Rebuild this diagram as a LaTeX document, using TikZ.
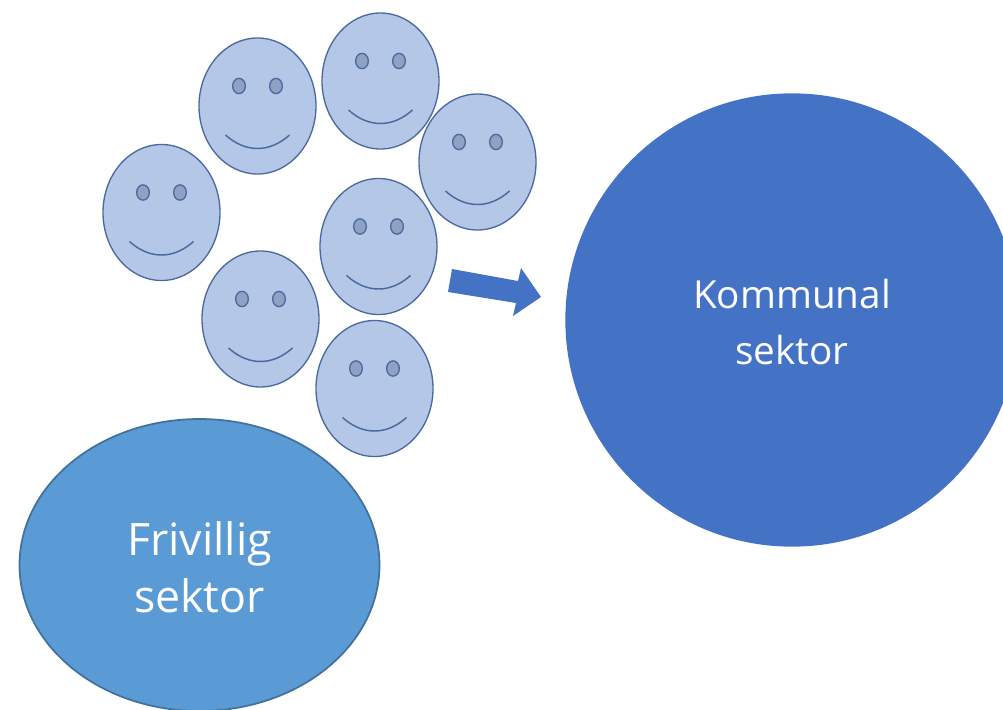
\documentclass[tikz,border=0pt]{standalone}
\usepackage{fontspec}
\setmainfont{Open Sans}
\usetikzlibrary{shapes.geometric,calc}
\definecolor{facedge}{HTML}{4A6A9F}
\definecolor{facefill}{HTML}{B4C7E7}
\definecolor{eyefill}{HTML}{8FA2C4}
\definecolor{komm}{HTML}{4472C4}
\definecolor{friv}{HTML}{5B9BD5}
\definecolor{frivedge}{HTML}{41719C}
\tikzset{x=0.75pt,y=-0.75pt,
 face/.style={ellipse,minimum width=87.75pt,minimum height=102pt,inner sep=0pt,draw=facedge,fill=facefill,line width=1pt},
 eye/.style={ellipse,minimum width=9.5pt,minimum height=11.5pt,inner sep=0pt,draw=facedge,fill=eyefill,line width=1pt},
 smile/.style={draw=facedge,line width=1.1pt},
 big/.style={inner sep=0pt,text=white,align=center}}
\newcommand{\smiley}[3]{%
 \node[face] (f#1) at (#2,#3) {};
 \node[eye] (l#1) at ($(f#1)+(-18.5,-20)$) {};
 \node[eye] (r#1) at ($(f#1)+(18.5,-20)$) {};
 \coordinate (a#1) at ($(f#1)+(-32,29)$);
 \coordinate (b#1) at ($(f#1)+(32,29)$);
 \draw[smile] (a#1) .. controls ($(f#1)+(-12,47)$) and ($(f#1)+(12,47)$) .. (b#1);
}
\begin{document}
\begin{tikzpicture}
\useasboundingbox (0,0) rectangle (1003,710);
\fill[white] (0,0) rectangle (1003,710);
\smiley{1}{257.5}{106}
\smiley{2}{380.5}{81}
\smiley{3}{477.5}{162}
\smiley{4}{161.5}{212.5}
\smiley{5}{378.5}{246.5}
\smiley{6}{260.5}{319}
\smiley{7}{374.5}{388.5}
\fill[komm] (452,269) -- (448,292) -- (516,303) -- (513,316) -- (541,297) -- (521,268) -- (518,281) -- cycle;
\node[big,circle,fill=komm,minimum width=340pt,font=\fontsize{29}{42}\selectfont] (k) at (792,320) {};
\node[big,font=\fontsize{29}{42}\selectfont] (kt) at (792,321.5) {Kommunal\\sektor};
\node[big,ellipse,minimum width=270pt,minimum height=219pt,fill=friv,draw=frivedge,line width=1.3pt] (v) at (199.5,565) {};
\node[big,font=\fontsize{33.5}{43}\selectfont] (vt) at (199.5,567) {Frivillig\\sektor};
\end{tikzpicture}
\end{document}
